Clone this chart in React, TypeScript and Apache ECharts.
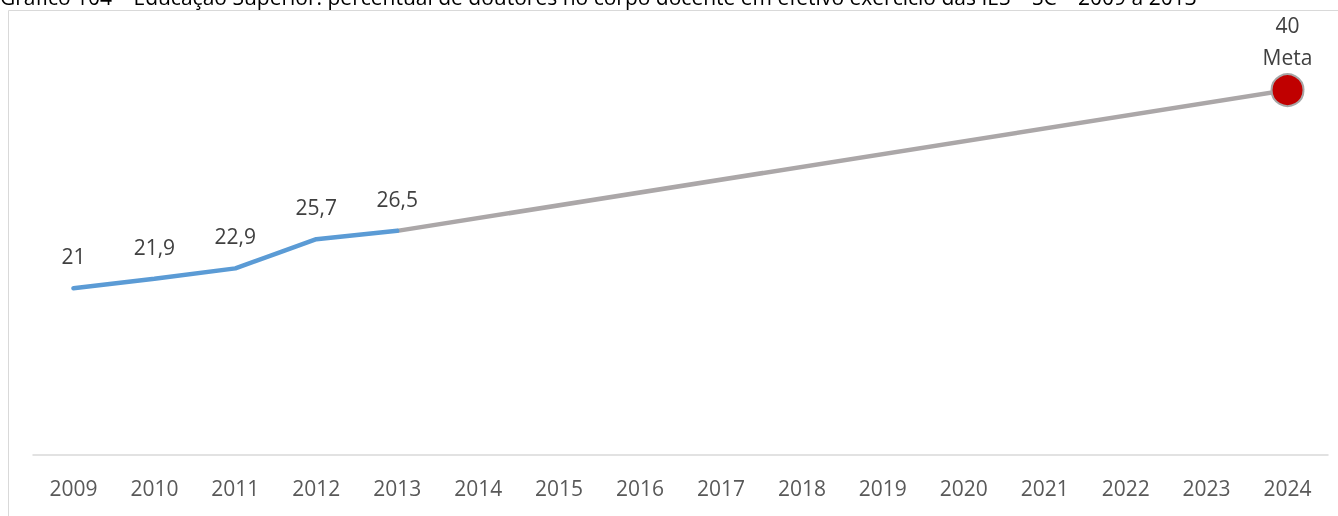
import React, { useEffect, useRef } from "react";
import * as echarts from "echarts";

const years = ["2009","2010","2011","2012","2013","2014","2015","2016","2017","2018","2019","2020","2021","2022","2023","2024"];
const observed: (number | null)[] = [21, 21.9, 22.9, 25.7, 26.5, null, null, null, null, null, null, null, null, null, null, null];
const projection: (number | null)[] = [null, null, null, null, 26.5, null, null, null, null, null, null, null, null, null, null, 40];
const metaIndex = 15;
const metaValue = 40;
const title = "Gráfico 104 – Educação Superior: percentual de doutores no corpo docente em efetivo exercício das IES – SC – 2009 a 2013";

const FONT = "'Open Sans', 'Noto Sans', sans-serif";
const AXIS_TEXT = "#595959";
const LABEL_TEXT = "#404040";

export default function App() {
  const ref = useRef<HTMLDivElement>(null);
  useEffect(() => {
    if (!ref.current) return;
    const chart = echarts.init(ref.current, undefined, { renderer: "svg" });
    const metaData = years.map((_, i) => (i === metaIndex ? metaValue : null));
    chart.setOption({
      animation: false,
      textStyle: { fontFamily: FONT },
      graphic: [
        {
          type: "rect",
          shape: { x: 8.5, y: 10.5, width: 1400, height: 600 },
          style: { fill: "none", stroke: "#D9D9D9", lineWidth: 1 },
          silent: true,
        },
        {
          type: "text",
          x: 0,
          y: 7,
          style: {
            text: title,
            font: `21px ${FONT}`,
            fill: "#000000",
            verticalAlign: "bottom",
          },
        },
      ],
      grid: { left: 33, right: 10, top: 38, bottom: 61, containLabel: false },
      xAxis: {
        type: "category",
        data: years,
        boundaryGap: true,
        axisLine: { show: true, lineStyle: { color: "#D9D9D9", width: 1.5 } },
        axisTick: { show: false },
        axisLabel: { color: AXIS_TEXT, fontSize: 21, margin: 22, fontFamily: FONT },
        splitLine: { show: false },
      },
      yAxis: {
        type: "value",
        min: 5,
        max: 45,
        show: false,
        splitLine: { show: false },
      },
      series: [
        {
          type: "line",
          data: projection,
          connectNulls: true,
          symbol: "none",
          lineStyle: { color: "#ABA7A8", width: 4.5 },
          z: 2,
        },
        {
          type: "line",
          data: observed,
          symbol: "circle",
          symbolSize: 1,
          itemStyle: { color: "#5B9BD5" },
          lineStyle: { color: "#5B9BD5", width: 4.5, cap: "round" },
          label: {
            show: true,
            position: "top",
            distance: 21,
            color: LABEL_TEXT,
            fontSize: 21,
            fontFamily: FONT,
            formatter: (p: any) => String(p.value).replace(".", ","),
          },
          z: 3,
        },
        {
          type: "line",
          data: metaData,
          symbol: "circle",
          symbolSize: 32,
          itemStyle: { color: "#C00000", borderColor: "#A6A6A6", borderWidth: 2 },
          lineStyle: { width: 0 },
          label: {
            show: true,
            position: "top",
            distance: 0,
            color: LABEL_TEXT,
            fontSize: 21,
            lineHeight: 32,
            fontFamily: FONT,
            formatter: (p: any) => `${p.value}\nMeta`,
          },
          z: 4,
        },
      ],
    });
    return () => chart.dispose();
  }, []);
  return (
    <div
      ref={ref}
      style={{ position: "fixed", left: 0, top: 0, width: 1338, height: 516 }}
    />
  );
}
